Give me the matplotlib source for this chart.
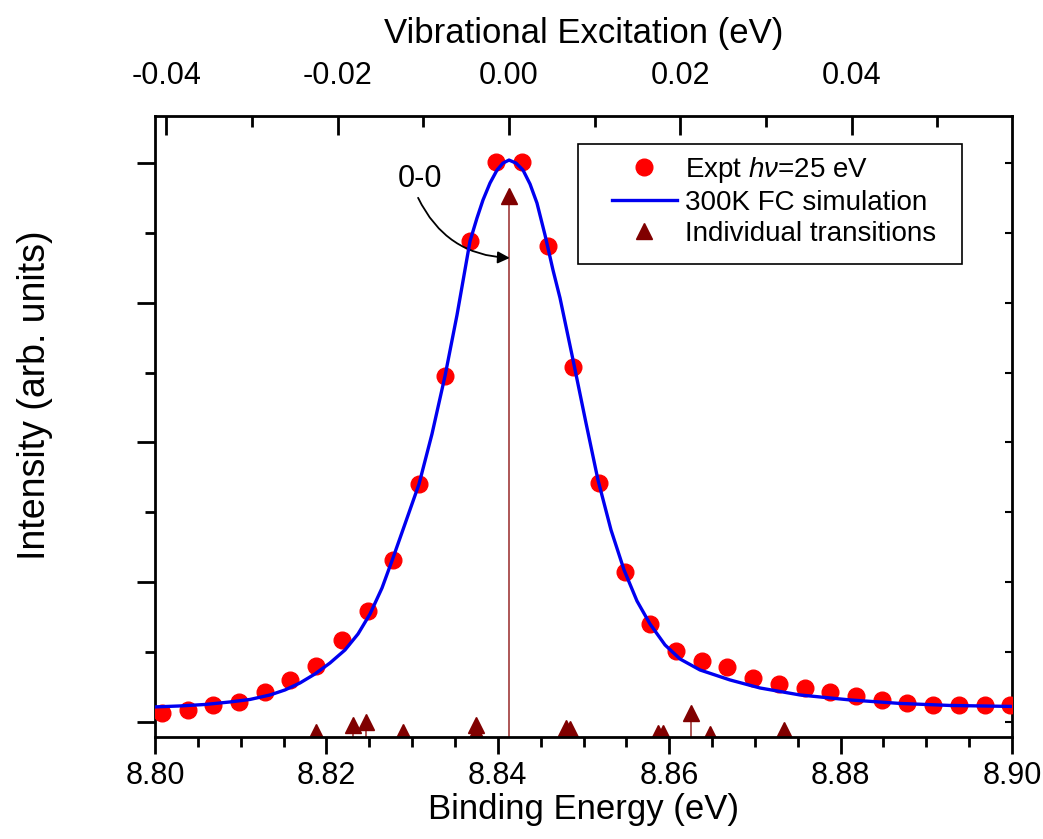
import matplotlib
matplotlib.use("Agg")
import matplotlib.pyplot as plt
from matplotlib.patches import Rectangle
from matplotlib.ticker import FixedLocator, NullFormatter

plt.rcParams['font.family'] = ['Liberation Sans', 'DejaVu Sans']
plt.rcParams['mathtext.fontset'] = 'custom'
plt.rcParams['mathtext.rm'] = 'Liberation Sans'
plt.rcParams['mathtext.it'] = 'Liberation Sans:italic'

# experimental points (binding energy, intensity)
expt_be = [8.8008, 8.8038, 8.8068, 8.8098, 8.8128, 8.8158, 8.8188, 8.8218, 8.8248,
           8.8278, 8.8308, 8.8338, 8.8368, 8.8398, 8.8428, 8.8458, 8.8488, 8.8518,
           8.8548, 8.8578, 8.8608, 8.8638, 8.8668, 8.8698, 8.8728, 8.8758, 8.8788,
           8.8818, 8.8848, 8.8878, 8.8908, 8.8938, 8.8968, 8.8998]
expt_int = [0.13, 0.17, 0.24, 0.29, 0.43, 0.60, 0.80, 1.17, 1.59,
            2.32, 3.40, 4.95, 6.88, 8.01, 8.01, 6.81, 5.08, 3.42,
            2.15, 1.40, 1.02, 0.87, 0.79, 0.63, 0.54, 0.49, 0.43,
            0.37, 0.31, 0.27, 0.24, 0.24, 0.24, 0.24]

# 300K FC simulation curve
sim_be = [8.80000, 8.80292, 8.80583, 8.80875, 8.81109, 8.81342, 8.81517, 8.81692,
          8.81867, 8.82042, 8.82217, 8.82369, 8.82509, 8.82649, 8.82777, 8.82917,
          8.83081, 8.83232, 8.83384, 8.83524, 8.83676, 8.83757, 8.83827, 8.83909,
          8.83991, 8.84061, 8.84131, 8.84212, 8.84294, 8.84376, 8.84457, 8.84551,
          8.84644, 8.84726, 8.84878, 8.85029, 8.85169, 8.85321, 8.85473, 8.85624,
          8.85776, 8.85951, 8.86126, 8.86359, 8.86709, 8.87060, 8.87526, 8.88110,
          8.88693, 8.89277, 8.90000]
sim_int = [0.215, 0.229, 0.250, 0.286, 0.322, 0.386, 0.458, 0.558,
           0.687, 0.844, 1.030, 1.259, 1.545, 1.917, 2.346, 2.833,
           3.405, 4.120, 4.950, 5.823, 6.881, 7.210, 7.468, 7.711,
           7.897, 7.997, 8.040, 7.997, 7.897, 7.697, 7.425, 6.967,
           6.466, 6.066, 5.179, 4.278, 3.462, 2.747, 2.175, 1.731,
           1.402, 1.102, 0.901, 0.744, 0.601, 0.486, 0.386, 0.315,
           0.265, 0.236, 0.222]

# individual transitions
trans_be = [8.8188, 8.8231, 8.8246, 8.8289, 8.8375, 8.8375, 8.8413, 8.8480, 8.8484,
            8.8587, 8.8593, 8.8626, 8.8648, 8.8734]
trans_int = [-0.15, -0.04, 0.00, -0.14, -0.04, -0.14, 7.52, -0.09, -0.10,
             -0.16, -0.16, 0.13, -0.17, -0.11]

# tick values
be_major = [8.80, 8.82, 8.84, 8.86, 8.88, 8.90]
be_minor = [8.805, 8.81, 8.815, 8.825, 8.83, 8.835, 8.845, 8.85, 8.855,
            8.865, 8.87, 8.875, 8.885, 8.89, 8.895]
vib_major = [-0.04, -0.02, 0.00, 0.02, 0.04]
vib_minor = [-0.03, -0.01, 0.01, 0.03, 0.05]
int_major = [0, 2, 4, 6, 8]
int_minor = [1, 3, 5, 7]
int_right = [0, 1, 2, 3, 4, 5, 6, 7, 8]

origin_be = 8.8413  # 0-0 transition

fig = plt.figure(figsize=(10.43, 8.39), dpi=100)
ax = fig.add_axes([0.1486, 0.1216, 0.8217, 0.7401])

ymin, ymax = -0.215, 8.67
ax.vlines(trans_be, ymin, trans_int, color='#a03a3a', lw=1.2, zorder=1)
ax.plot(trans_be, trans_int, '^', color='#800000', ms=12, ls='none', zorder=2,
        label='Individual transitions')
ax.plot(expt_be, expt_int, 'o', color='#ff0000', ms=12, ls='none', zorder=3,
        label=r'Expt $h\nu$=25 eV')
ax.plot(sim_be, sim_int, '-', color='#0000f0', lw=2.4, zorder=4,
        label='300K FC simulation')

ax.set_xlim(8.80, 8.90)
ax.set_ylim(ymin, ymax)

ax.xaxis.set_major_locator(FixedLocator(be_major))
ax.xaxis.set_minor_locator(FixedLocator(be_minor))
ax.yaxis.set_major_locator(FixedLocator(int_major))
ax.yaxis.set_minor_locator(FixedLocator(int_minor))
ax.yaxis.set_major_formatter(NullFormatter())
ax.xaxis.set_major_formatter(plt.FuncFormatter(lambda v, p: f"{v:.2f}"))

ax.tick_params(axis='x', which='major', direction='out', length=12, width=2, labelsize=22, pad=5)
ax.tick_params(axis='x', which='minor', direction='out', length=7, width=2)
ax.tick_params(axis='y', which='major', direction='out', length=13, width=2)
ax.tick_params(axis='y', which='minor', direction='out', length=7, width=2)
for s in ax.spines.values():
    s.set_linewidth(2)

# right side small inward ticks
ry = ax.secondary_yaxis('right')
ry.yaxis.set_major_locator(FixedLocator(int_right))
ry.yaxis.set_major_formatter(NullFormatter())
ry.tick_params(direction='in', length=5, width=1.5)

# top axis: vibrational excitation
top = ax.secondary_xaxis('top', functions=(lambda x: x - origin_be, lambda x: x + origin_be))
top.xaxis.set_major_locator(FixedLocator(vib_major))
top.xaxis.set_minor_locator(FixedLocator(vib_minor))
top.xaxis.set_major_formatter(plt.FuncFormatter(lambda v, p: f"{v:.2f}"))
top.tick_params(which='major', direction='in', length=14, width=2, labelsize=22, pad=18)
top.tick_params(which='minor', direction='in', length=8, width=2)
top.set_xlabel('Vibrational Excitation (eV)', fontsize=25, labelpad=13)

ax.set_xlabel('Binding Energy (eV)', fontsize=25, labelpad=2)
ax.set_ylabel('Intensity (arb. units)', fontsize=27)
ax.yaxis.set_label_coords(-0.119, 0.55)

# 0-0 label with curved arrow
ax.text(8.8309, 7.77, '0-0', fontsize=22, ha='center', va='center')
ax.annotate('', xy=(8.8414, 6.64), xytext=(8.8307, 7.50),
            arrowprops=dict(arrowstyle='-|>', color='black', lw=1.3,
                            mutation_scale=18, shrinkA=0, shrinkB=0,
                            connectionstyle='arc3,rad=0.3'))

h, l = ax.get_legend_handles_labels()
leg = ax.legend([h[1], h[2], h[0]], [l[1], l[2], l[0]], loc='upper left',
                bbox_to_anchor=(0.533, 0.937), fontsize=20, frameon=False,
                handlelength=2.34, handletextpad=0.3, borderpad=0,
                borderaxespad=0, labelspacing=0.18)
ax.add_patch(Rectangle((0.4936, 0.7617), 0.4481, 0.1933, transform=ax.transAxes,
                       fill=False, edgecolor='black', lw=1.2, zorder=5))

plt.savefig('out.png', dpi=100)
